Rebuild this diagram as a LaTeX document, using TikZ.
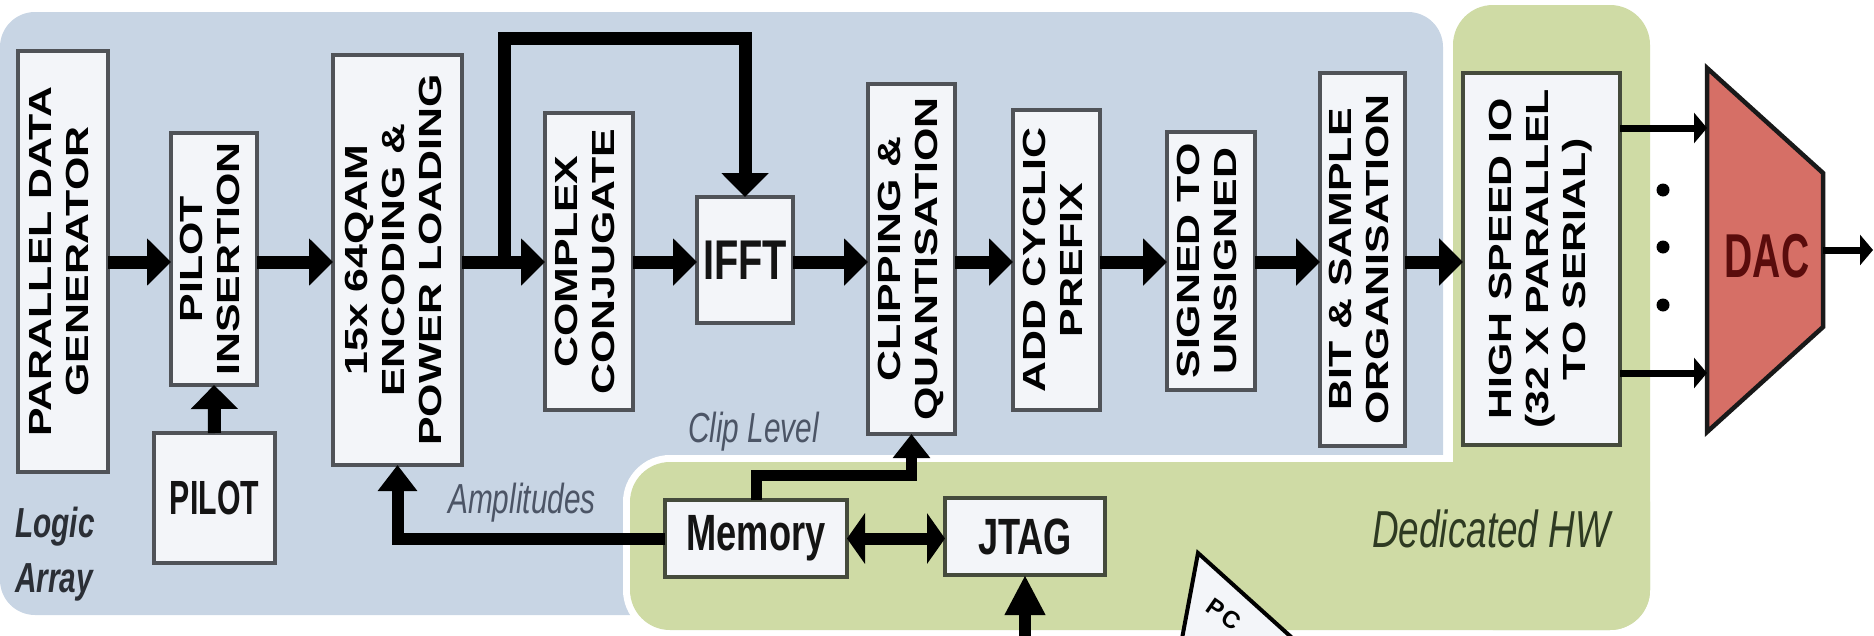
\documentclass[tikz,border=0pt]{standalone}
\usepackage{fontspec}
\usepackage{graphicx}
\setmainfont{Liberation Sans}
\newfontfamily\vfont[FakeStretch=1.34]{Liberation Sans}
\newfontfamily\hfont[FakeStretch=0.71]{Liberation Sans}
\newfontfamily\gfont[FakeStretch=0.63]{Liberation Sans}
\usetikzlibrary{arrows.meta,calc}
\definecolor{bluebg}{HTML}{C8D5E4}
\definecolor{greenbg}{HTML}{CFDBA5}
\definecolor{boxfill}{HTML}{F3F5F9}
\definecolor{boxline}{HTML}{505358}
\definecolor{hwline}{HTML}{454B3C}
\definecolor{dacred}{HTML}{D66F66}
\definecolor{dactext}{HTML}{5A0C0C}
\definecolor{lblgray}{HTML}{4C5566}
\definecolor{lbldark}{HTML}{2B2F36}
\definecolor{hwtext}{HTML}{2E3A22}
\newcommand\vtext[1]{\rotatebox{90}{\vfont\bfseries\fontsize{32}{37}\selectfont\begin{tabular}{@{}c@{}}#1\end{tabular}}}
\begin{document}
\begin{tikzpicture}[x=1pt,y=-1pt,
  blk/.style={rectangle, draw=boxline, line width=4.5pt, fill=boxfill, inner sep=0pt, outer sep=0pt},
  hwblk/.style={blk, draw=hwline},
  htext/.style={font=\hfont\bfseries\fontsize{51}{51}\selectfont, text=black!92},
  flow/.style={line width=13pt, -{Triangle[length=24pt,width=46pt]}},
  amp/.style={line width=12pt, -{Triangle[length=26pt,width=38pt]}},
  clipar/.style={line width=11pt, -{Triangle[length=24pt,width=36pt]}},
  dblar/.style={line width=12pt, {Triangle[length=18pt,width=50pt]}-{Triangle[length=18pt,width=50pt]}},
  jtarrow/.style={line width=12pt, -{Triangle[length=40pt,width=38pt]}},
  thinar/.style={line width=7pt, -{Triangle[length=13pt,width=30pt]}},
  lbl/.style={inner sep=0pt, text=lblgray, font=\hfont\itshape\fontsize{42}{42}\selectfont},
  lblb/.style={inner sep=0pt, text=lbldark, font=\hfont\bfseries\itshape\fontsize{42}{42}\selectfont},
  hwlbl/.style={inner sep=0pt, text=hwtext, font=\hfont\itshape\fontsize{52}{52}\selectfont}
]
\useasboundingbox (0,0) rectangle (1874,635);
% regions
\fill[bluebg, rounded corners=35pt] (0,12) rectangle (1443,615);
\draw[white, line width=14pt, rounded corners=40pt] (1453,5) rectangle (1650,630);
\draw[white, line width=14pt, rounded corners=40pt] (630,462) rectangle (1650,630);
\fill[greenbg, rounded corners=40pt] (1453,5) rectangle (1650,630);
\fill[greenbg, rounded corners=40pt] (630,462) rectangle (1650,630);

% blocks
\node[blk, minimum width=90pt, minimum height=421pt] (pdg) at (63,261.5) {\vtext{PARALLEL DATA\\GENERATOR}};
\node[blk, minimum width=86pt, minimum height=252pt] (pins) at (214,259) {\vtext{PILOT\\INSERTION}};
\node[blk, htext, font=\gfont\bfseries\fontsize{48}{48}\selectfont, minimum width=121pt, minimum height=130pt] (pilot) at (214.5,498) {PILOT};
\node[blk, minimum width=129pt, minimum height=410pt] (qam) at (397.5,260) {\vtext{15x 64QAM\\ENCODING \&\\POWER LOADING}};
\node[blk, minimum width=88pt, minimum height=297pt] (cc) at (589,261.5) {\vtext{COMPLEX\\CONJUGATE}};
\node[blk, htext, font=\hfont\bfseries\fontsize{56}{56}\selectfont, minimum width=96pt, minimum height=126pt] (ifft) at (745,260) {IFFT};
\node[blk, minimum width=87pt, minimum height=350pt] (clip) at (911.5,259) {\vtext{CLIPPING \&\\QUANTISATION}};
\node[blk, minimum width=87pt, minimum height=300pt] (acp) at (1056.5,260) {\vtext{ADD CYCLIC\\PREFIX}};
\node[blk, minimum width=88pt, minimum height=258pt] (s2u) at (1211,261) {\vtext{SIGNED TO\\UNSIGNED}};
\node[blk, minimum width=85pt, minimum height=373pt] (bit) at (1362.5,259.5) {\vtext{BIT \& SAMPLE\\ORGANISATION}};
\node[hwblk, minimum width=157pt, minimum height=372pt] (hsio) at (1541.5,259) {\vtext{HIGH SPEED IO\\(32 X PARALLEL\\TO SERIAL)}};
\node[hwblk, htext, minimum width=182pt, minimum height=77pt] (mem) at (756,538.5) {Memory};
\node[hwblk, htext, minimum width=160pt, minimum height=77pt] (jtag) at (1025,536.5) {JTAG};

% DAC
\coordinate (dtl) at (1707,68);
\coordinate (dbl) at (1707,432);
\coordinate (dtr) at (1823,173);
\coordinate (dbr) at (1823,327);
\draw[fill=dacred, draw=black!90, line width=4.5pt, line join=miter] (dtl) -- (dtr) -- (dbr) -- (dbl) -- cycle;
\node[font=\gfont\bfseries\fontsize{62}{62}\selectfont, text=dactext, inner sep=0pt] (dac) at (1767,256) {DAC};

% PC icon (cut by the lower edge)
\begin{scope}
\clip (0,0) rectangle (1874,635);
\draw[fill=boxfill, draw=black, line width=4pt, line join=miter] (1198,553) -- (1300,645) -- (1178,660) -- cycle;
\end{scope}
\node[font=\bfseries\fontsize{24}{24}\selectfont, rotate=-35, inner sep=0pt] (pc) at (1224,614) {P\kern3pt C};

% main chain
\coordinate (ml) at (0,262);
\draw[flow] (pdg.east |- ml) -- (pins.west |- ml);
\draw[flow] (pins.east |- ml) -- (qam.west |- ml);
\draw[flow] (qam.east |- ml) -- (cc.west |- ml);
\draw[flow] (cc.east |- ml) -- (ifft.west |- ml);
\draw[flow] (ifft.east |- ml) -- (clip.west |- ml);
\draw[flow] (clip.east |- ml) -- (acp.west |- ml);
\draw[flow] (acp.east |- ml) -- (s2u.west |- ml);
\draw[flow] (s2u.east |- ml) -- (bit.west |- ml);
\draw[flow] (bit.east |- ml) -- (hsio.west |- ml);
\draw[flow] (pilot.north) -- (pins.south);
% branch to IFFT
\coordinate (brs) at (504,262);
\coordinate (brt) at (504,38);
\draw[flow] (brs) -- (brt) -| (ifft.north);
% memory connections
\draw[amp] (mem.west) -| (qam.south);
\coordinate (cly) at (0,475);
\draw[clipar] (mem.north) |- (clip.south |- cly) -- (clip.south);
\draw[dblar] (mem.east) -- (mem.east -| jtag.west);
\coordinate (jin) at (1025,636);
\draw[jtarrow] (jin) -- (jtag.south);
% to DAC
\coordinate (d1) at (1707,128);
\coordinate (d2) at (1707,373);
\draw[thinar] (hsio.east |- d1) -- (d1);
\draw[thinar] (hsio.east |- d2) -- (d2);
\coordinate (dout) at (1823,250);
\coordinate (dend) at (1873,250);
\draw[thinar] (dout) -- (dend);
\fill (1663,190) circle (6.5pt);
\fill (1663,247) circle (6.5pt);
\fill (1663,305) circle (6.5pt);

% labels
\node[lbl, anchor=base west] (cliplbl) at (688,442) {Clip Level};
\node[lbl, anchor=base west] (amplbl) at (448,513) {Amplitudes};
\node[lblb, anchor=base west] (logic) at (15,537) {Logic};
\node[lblb, anchor=base west] (array) at (15,592) {Array};
\node[hwlbl, anchor=base west] (hwlbl) at (1372,547) {Dedicated HW};
\end{tikzpicture}
\end{document}
